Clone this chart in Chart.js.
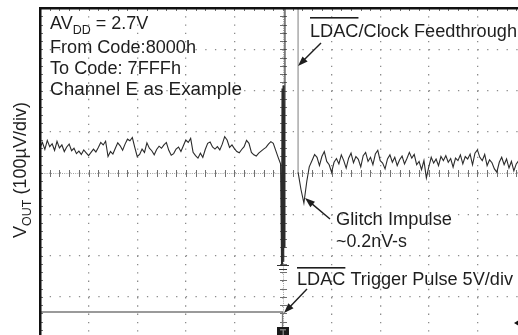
<!DOCTYPE html>
<html>
<head>
<meta charset="utf-8">
<script src="https://cdn.jsdelivr.net/npm/chart.js@4.4.1/dist/chart.umd.min.js"></script>
<style>
  html, body { margin: 0; padding: 0; width: 518px; height: 335px; overflow: hidden; background: #fff; }
  #wrap { position: absolute; left: 0; top: 0; }
</style>
</head>
<body>
<div id="wrap"><canvas id="scope" width="540" height="345"></canvas></div>
<script>
// Time axis in divisions (10 div), V_OUT in µV (100 µV/div, 8 div)
const sampleStep = 0.05;

// V_OUT before the LDAC edge, sampled from t = 0 div
const preNoise = [
  62, 74, 57, 79, 64, 71, 55, 77, 61, 68,
  52, 63, 70, 54, 60, 47, 53, 45, 56, 49,
  42, 50, 58, 51, 62, 74, 68, 77, 40, 52,
  46, 60, 73, 66, 55, 70, 82, 78, 86, 62,
  40, 45, 58, 50, 73, 60, 54, 44, 57, 65,
  60, 68, 74, 55, 43, 47, 58, 63, 52, 66,
  80, 74, 84, 50, 42, 36, 48, 38, 57, 72,
  75, 63, 58, 64, 56, 70, 88, 80, 62, 68,
  59, 52, 49, 57, 64, 79, 72, 50, 44, 41,
  48, 53, 58, 62, 70, 76, 72, 55, 38, 22
];

// LDAC edge: ringing, clock feedthrough and glitch
const edgeT = [4.97, 4.98, 4.99, 5.00, 5.01, 5.02, 5.03, 5.04, 5.31, 5.31, 5.37, 5.43, 5.49, 5.54];
const edgeV = [-225, 205, -222, 212, -215, 200, -180, 600, 600, 2, -40, -73, -20, 15];

// V_OUT after the glitch, sampled from t = 5.6 div
const postStart = 5.6;
const postNoise = [
  31, 45, 38, 18, 40, 52, 28, 20, 2, 26,
  35, 22, 44, 30, 12, 36, 48, 25, 40, 33,
  15, 42, 50, 28, 38, 20, 46, 55, 30, 24,
  10, 34, 44, 26, 38, 18, 32, 41, 22, 35,
  50, 36, 45, 20, 28, 8, 30, -12, 15, 38,
  24, 34, 18, 40, 30, 42, 26, 35, 14, 36,
  30, 44, 22, 40, 34, 46, 20, 48, 56, 38,
  30, 45, 18, 32, 25, 10, 2, 26, 38, 20,
  34, 12, 28, 5, 22, 30, 18, 25, 20
];

// LDAC trigger pulse (drawn on the same screen, 5V/div)
const pulseT = [0, 4.99, 4.99];
const pulseV = [-337, -337, -600];

const trace = [];
preNoise.forEach((v, i) => trace.push({ x: i * sampleStep, y: v }));
edgeT.forEach((t, i) => trace.push({ x: t, y: edgeV[i] }));
postNoise.forEach((v, i) => trace.push({ x: postStart + i * sampleStep, y: v }));
const pulse = pulseT.map((t, i) => ({ x: t, y: pulseV[i] }));

const FONT = '"Liberation Sans", Arial, sans-serif';
const INK = '#1e1e1e';

function arrow(ctx, x1, y1, x2, y2) {
    const a = Math.atan2(y2 - y1, x2 - x1);
    const len = 10, half = 3.6;
    ctx.strokeStyle = INK;
    ctx.fillStyle = INK;
    ctx.lineWidth = 1.4;
    ctx.beginPath();
    ctx.moveTo(x1, y1);
    ctx.lineTo(x2 - Math.cos(a) * len * 0.8, y2 - Math.sin(a) * len * 0.8);
    ctx.stroke();
    ctx.beginPath();
    ctx.moveTo(x2, y2);
    ctx.lineTo(x2 - Math.cos(a) * len - Math.sin(a) * half, y2 - Math.sin(a) * len + Math.cos(a) * half);
    ctx.lineTo(x2 - Math.cos(a) * len + Math.sin(a) * half, y2 - Math.sin(a) * len - Math.cos(a) * half);
    ctx.closePath();
    ctx.fill();
}

// text squeezed/stretched to the width it has in the plot; returns the x scale used
function fitText(ctx, text, x, y, width) {
    const k = width / ctx.measureText(text).width;
    ctx.save();
    ctx.translate(x, y);
    ctx.scale(k, 1);
    ctx.fillText(text, 0, 0);
    ctx.restore();
    return k;
}

// text with an overline over the first word
function overlined(ctx, word, rest, x, y, overY, width) {
    const k = fitText(ctx, word + rest, x, y, width);
    const w = ctx.measureText(word).width * k;
    ctx.fillRect(x, overY, w, 1.6);
}

const scopeDecor = {
    id: 'scopeDecor',
    beforeDatasetsDraw(chart) {
        const ctx = chart.ctx;
        const xs = chart.scales.x, ys = chart.scales.y;
        const cx = xs.getPixelForValue(5), cy = ys.getPixelForValue(0);
        const left = xs.getPixelForValue(0), top = ys.getPixelForValue(400);
        ctx.save();
        // center cross with minor ticks
        ctx.strokeStyle = '#a0a0a0';
        ctx.lineWidth = 1;
        ctx.setLineDash([1, 1.2]);
        ctx.beginPath();
        ctx.moveTo(left, cy + 0.5); ctx.lineTo(chart.width, cy + 0.5);
        ctx.moveTo(cx + 0.5, top); ctx.lineTo(cx + 0.5, chart.height);
        ctx.stroke();
        ctx.setLineDash([]);
        ctx.strokeStyle = '#707070';
        ctx.beginPath();
        for (let k = 0; k <= 50; k++) {
            const x = Math.round(xs.getPixelForValue(k * 0.2)) + 0.5;
            ctx.moveTo(x, cy - 3); ctx.lineTo(x, cy + 4);
            ctx.moveTo(x, top); ctx.lineTo(x, top + 3);
        }
        for (let k = -20; k <= 20; k++) {
            const y = Math.round(ys.getPixelForValue(k * 20)) + 0.5;
            ctx.moveTo(cx - 3, y); ctx.lineTo(cx + 4, y);
            ctx.moveTo(left, y); ctx.lineTo(left + 3, y);
        }
        ctx.stroke();
        ctx.restore();
    },
    afterDatasetsDraw(chart) {
        const ctx = chart.ctx;
        const xs = chart.scales.x, ys = chart.scales.y;
        const left = xs.getPixelForValue(0), top = ys.getPixelForValue(400);
        const cx = xs.getPixelForValue(5);
        ctx.save();
        // frame (left and top edges visible)
        ctx.fillStyle = '#111';
        ctx.fillRect(left - 1, top - 1, 2.5, chart.height);
        ctx.fillRect(left - 1, top - 1, chart.width, 2.5);

        // trigger level mark and trigger marker
        ctx.strokeStyle = '#333';
        ctx.lineWidth = 1.2;
        ctx.beginPath();
        ctx.moveTo(cx - 6, 265.5); ctx.lineTo(cx + 6, 265.5);
        ctx.moveTo(cx - 4, 269.5); ctx.lineTo(cx + 4, 269.5);
        ctx.stroke();
        ctx.fillStyle = '#1a1a1a';
        ctx.fillRect(cx - 6, 327, 12, 11);
        ctx.fillStyle = '#777';
        ctx.fillRect(cx - 3, 329, 6, 1.5);
        ctx.fillRect(cx - 0.5, 329, 1.5, 6);
        // ground marker on the right edge
        ctx.fillStyle = '#111';
        ctx.beginPath();
        ctx.moveTo(514, 323); ctx.lineTo(519, 320); ctx.lineTo(519, 326); ctx.closePath();
        ctx.fill();

        // annotations
        ctx.fillStyle = INK;
        ctx.textBaseline = 'alphabetic';
        ctx.font = '18px ' + FONT;
        ctx.fillText('AV', 50, 29);
        let w = ctx.measureText('AV').width;
        ctx.font = '12.5px ' + FONT;
        ctx.fillText('DD', 50 + w, 33.5);
        w += ctx.measureText('DD').width;
        ctx.font = '18px ' + FONT;
        ctx.fillText(' = 2.7V', 50 + w, 29);
        fitText(ctx, 'From Code:8000h', 50, 53, 146);
        fitText(ctx, 'To Code: 7FFFh', 50, 74, 131);
        fitText(ctx, 'Channel E as Example', 50, 95, 192);

        overlined(ctx, 'LDAC', '/Clock Feedthrough', 310, 37, 17, 207);
        fitText(ctx, 'Glitch Impulse', 336, 225, 116);
        fitText(ctx, '~0.2nV-s', 336, 247, 71);
        overlined(ctx, 'LDAC', ' Trigger Pulse 5V/div', 297, 285, 267, 216);

        arrow(ctx, 321, 43, 298, 66);
        arrow(ctx, 330, 219, 305, 198);
        arrow(ctx, 307, 289, 284, 313);

        // y axis title, rotated
        ctx.translate(26, 170);
        ctx.rotate(-Math.PI / 2);
        ctx.font = '18px ' + FONT;
        const p1 = 'V', p3 = ' (100µV/div)';
        const w1 = ctx.measureText(p1).width, w3 = ctx.measureText(p3).width;
        ctx.font = '12.5px ' + FONT;
        const w2 = ctx.measureText('OUT').width;
        const sx = -(w1 + w2 + w3) / 2;
        ctx.font = '18px ' + FONT;
        ctx.fillText(p1, sx, 0);
        ctx.font = '12.5px ' + FONT;
        ctx.fillText('OUT', sx + w1, 4.5);
        ctx.font = '18px ' + FONT;
        ctx.fillText(p3, sx + w1 + w2, 0);
        ctx.restore();
    }
};

const gridColor = '#8c8c8c';

new Chart(document.getElementById('scope'), {
    type: 'line',
    data: {
        datasets: [
            {
                label: 'VOUT',
                data: trace,
                borderColor: '#2b2b2b',
                borderWidth: 1.1,
                pointRadius: 0,
                tension: 0,
                segment: {
                    borderColor: c => (c.p0.parsed.x >= 5.1 && c.p1.parsed.x <= 5.35) ? '#8a8a8a' : undefined
                }
            },
            {
                label: 'LDAC',
                data: pulse,
                borderColor: '#7a7a7a',
                borderWidth: 1.3,
                pointRadius: 0,
                tension: 0
            }
        ]
    },
    options: {
        responsive: false,
        animation: false,
        events: [],
        devicePixelRatio: 1,
        layout: { padding: { left: 40, top: 8, right: 14, bottom: 7 } },
        plugins: { legend: { display: false }, tooltip: { enabled: false } },
        scales: {
            x: {
                type: 'linear',
                min: 0,
                max: 10,
                ticks: { display: false, stepSize: 1 },
                grid: { color: gridColor, lineWidth: 1.3, drawTicks: false },
                border: { display: false, dash: [1.3, 6.96] }
            },
            y: {
                type: 'linear',
                min: -400,
                max: 400,
                ticks: { display: false, stepSize: 100 },
                grid: { color: gridColor, lineWidth: 1.3, drawTicks: false },
                border: { display: false, dash: [1.3, 8.42] }
            }
        }
    },
    plugins: [scopeDecor]
});
</script>
</body>
</html>
